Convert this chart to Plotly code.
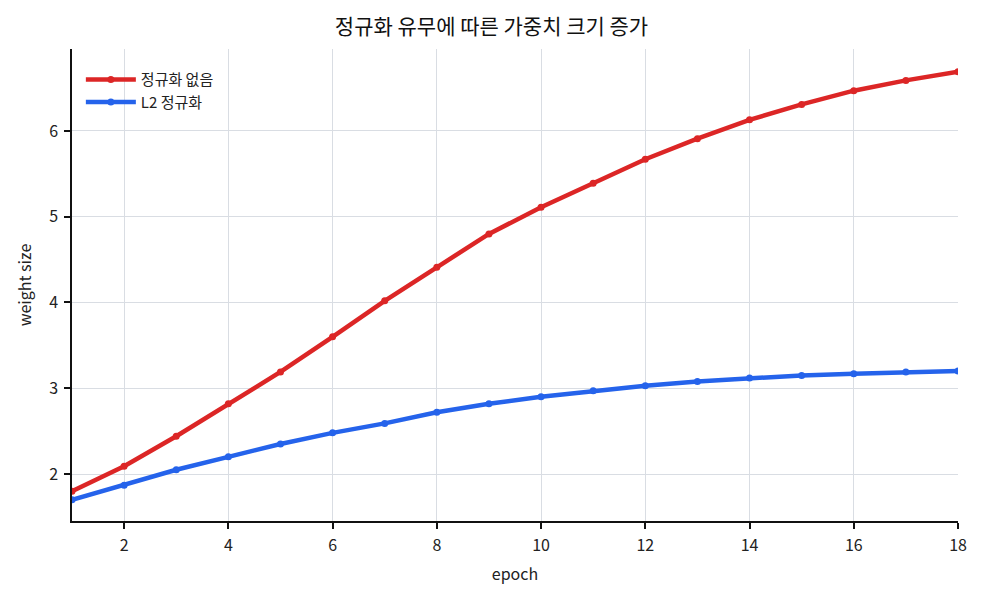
import plotly.graph_objects as go

epochs = list(range(1, 19))
no_reg = [1.80, 2.09, 2.44, 2.82, 3.19, 3.60, 4.02, 4.41, 4.80, 5.11, 5.39, 5.67, 5.91, 6.13, 6.31, 6.47, 6.59, 6.69]
l2_reg = [1.70, 1.87, 2.05, 2.20, 2.35, 2.48, 2.59, 2.72, 2.82, 2.90, 2.97, 3.03, 3.08, 3.12, 3.15, 3.17, 3.19, 3.20]
series_names = ["정규화 없음", "L2 정규화"]
colors = ["#dc2626", "#2563eb"]

FONT = "Noto Sans CJK KR"

fig = go.Figure()
for name, vals, c in zip(series_names, [no_reg, l2_reg], colors):
    fig.add_trace(go.Scatter(
        x=epochs, y=vals, name=name, mode="lines+markers",
        line=dict(color=c, width=4.5),
        marker=dict(color=c, size=7),
        cliponaxis=True,
    ))

axis_common = dict(
    showline=True, linecolor="#111111", linewidth=1.5,
    ticks="outside", ticklen=6, tickwidth=1.5, tickcolor="#111111",
    showgrid=True, gridcolor="#d9dde3", gridwidth=1.2,
    zeroline=False, tickfont=dict(size=16, color="#222222", family=FONT),
    title_font=dict(size=16, color="#222222", family=FONT),
)

fig.update_layout(
    width=983, height=600,
    margin=dict(l=72, r=25, t=49, b=79),
    paper_bgcolor="white", plot_bgcolor="white",
    font=dict(family=FONT, color="#222222"),
    title=dict(text="정규화 유무에 따른 가중치 크기 증가", x=0.5, xanchor="center",
               y=0.955, yanchor="middle", font=dict(size=21, color="#111111", family=FONT)),
    xaxis=dict(range=[1, 18], tickvals=list(range(2, 19, 2)), ticklabelstandoff=3,
               title=dict(text="epoch", standoff=14), **axis_common),
    yaxis=dict(range=[1.452, 6.956], tickvals=[2, 3, 4, 5, 6], ticklabelstandoff=3,
               title=dict(text="weight size", standoff=14), **axis_common),
    legend=dict(x=0.01, y=0.97, xanchor="left", yanchor="top", bgcolor="rgba(255,255,255,0)",
                font=dict(size=15, family=FONT, color="#222222"), itemwidth=50, tracegroupgap=2),
    showlegend=True,
)

fig.write_html("out.html")
